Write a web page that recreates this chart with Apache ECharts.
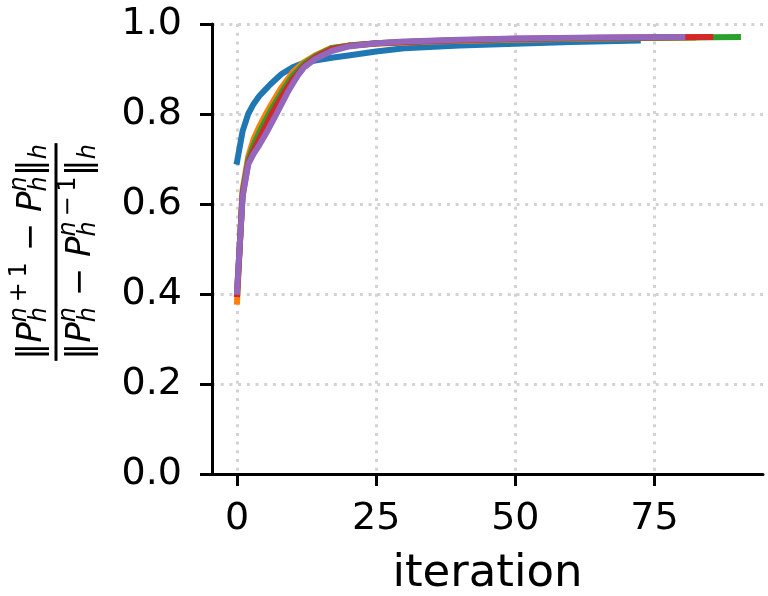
<!DOCTYPE html>
<html>
<head>
<meta charset="utf-8">
<script src="https://cdn.jsdelivr.net/npm/echarts@6/dist/echarts.min.js"></script>
<style>
html, body { margin: 0; padding: 0; background: #fff; }
#chart { width: 768px; height: 596px; }
</style>
</head>
<body>
<div id="chart"></div>
<script>
// 刻度
const xTicks = [0, 25, 50, 75];
const yTicks = [0, 0.2, 0.4, 0.6, 0.8, 1.0];

// 每条曲线: 迭代次数 / 比值
const blueX = [0, 1, 2, 3, 4, 5, 6, 8, 10, 12, 14, 17, 20, 25, 30, 40, 50, 60, 72];
const blueY = [0.694, 0.762, 0.800, 0.823, 0.840, 0.853, 0.866, 0.889, 0.904, 0.914, 0.919, 0.925, 0.930, 0.939, 0.946, 0.952, 0.956, 0.960, 0.963];
const orangeX = [0, 1, 2, 3, 4, 5, 6, 7, 8, 10, 12, 14, 17, 20, 25, 35, 50, 65, 82];
const orangeY = [0.383, 0.631, 0.705, 0.745, 0.772, 0.796, 0.818, 0.839, 0.859, 0.893, 0.915, 0.930, 0.947, 0.952, 0.956, 0.961, 0.965, 0.968, 0.970];
const greenX = [0, 1, 2, 3, 4, 5, 6, 7, 8, 10, 12, 14, 17, 20, 25, 35, 50, 70, 90];
const greenY = [0.400, 0.625, 0.697, 0.732, 0.759, 0.783, 0.806, 0.827, 0.848, 0.885, 0.911, 0.928, 0.946, 0.952, 0.957, 0.962, 0.966, 0.969, 0.971];
const redX = [0, 1, 2, 3, 4, 5, 6, 7, 8, 10, 12, 14, 17, 20, 25, 35, 50, 70, 85];
const redY = [0.400, 0.620, 0.690, 0.720, 0.745, 0.770, 0.794, 0.817, 0.838, 0.877, 0.906, 0.925, 0.944, 0.951, 0.957, 0.962, 0.967, 0.970, 0.971];
const purpleX = [0, 1, 2, 3, 4, 5, 6, 7, 8, 9, 10, 11, 12, 14, 17, 20, 25, 30, 40, 50, 65, 80];
const purpleY = [0.405, 0.616, 0.688, 0.712, 0.731, 0.752, 0.775, 0.798, 0.822, 0.846, 0.867, 0.887, 0.903, 0.922, 0.940, 0.950, 0.957, 0.961, 0.965, 0.968, 0.970, 0.971];

const runs = [
  [blueX, blueY, '#1f77b4'],
  [orangeX, orangeY, '#ff7f0e'],
  [greenX, greenY, '#2ca02c'],
  [redX, redY, '#d62728'],
  [purpleX, purpleY, '#9467bd']
];

const FONT = 'DejaVu Sans';
const ctx = document.createElement('canvas').getContext('2d');
let fnt = (size, it) => (it ? 'italic ' : '') + size + 'px "' + FONT + '"';
let tw = (t, size, it) => { ctx.font = fnt(size, it); return ctx.measureText(t).width; };

// y轴标题: 分式
const mainSize = 34, scriptSize = 24;
const numer = [['‖'], ['P', 1], {sup: [['n', 1], ['\u2009+\u20091']], sub: [['h', 1]]}, [' − '], ['P', 1], {sup: [['n', 1]], sub: [['h', 1]]}, ['‖'], {sub: [['h', 1]]}];
const denom = [['‖'], ['P', 1], {sup: [['n', 1]], sub: [['h', 1]]}, [' − '], ['P', 1], {sup: [['n', 1], ['\u2009−\u20091']], sub: [['h', 1]]}, ['‖'], {sub: [['h', 1]]}];

function layoutLine(tokens, cy) {
  const els = [];
  let cx = 0;
  let put = (segs, size, y) => {
    let x0 = cx;
    segs.forEach(s => {
      els.push({type: 'text', x: x0, y: y, style: {text: s[0], font: fnt(size, s[1]), fill: '#000', align: 'left', verticalAlign: 'middle'}});
      x0 += tw(s[0], size, s[1]);
    });
    return x0 - cx;
  };
  tokens.forEach(tok => {
    if (Array.isArray(tok)) {
      cx += put([tok], mainSize, cy);
    } else {
      let a = tok.sup ? put(tok.sup, scriptSize, cy - 12) : 0;
      let b = tok.sub ? put(tok.sub, scriptSize, cy + 8) : 0;
      cx += Math.max(a, b);
    }
  });
  els.forEach(e => { e.x -= cx / 2; });
  return {els: els, w: cx};
}
const numLine = layoutLine(numer, -24);
const denLine = layoutLine(denom, 25);
const barW = Math.max(numLine.w, denLine.w) + 2;

const chart = echarts.init(document.getElementById('chart'));
chart.setOption({
  animation: false,
  backgroundColor: '#fff',
  grid: {left: 212, right: 5, top: 24, bottom: 122, outerBoundsMode: 'none', containLabel: false},
  xAxis: {
    type: 'value', min: -4.5, max: 94.5,
    name: 'iteration', nameLocation: 'middle', nameGap: 78,
    nameTextStyle: {fontFamily: FONT, fontSize: 45, color: '#000'},
    axisLine: {onZero: false, lineStyle: {color: '#000', width: 3}},
    axisTick: {customValues: xTicks, length: 12, lineStyle: {color: '#000', width: 3}},
    axisLabel: {customValues: xTicks, margin: 26, fontFamily: FONT, fontSize: 38, color: '#000'},
    splitLine: {show: true, lineStyle: {color: '#d3d3d3', width: 3, type: [3, 5.7]}}
  },
  yAxis: {
    type: 'value', min: 0, max: 1, interval: 0.2,
    axisLine: {show: true, onZero: false, lineStyle: {color: '#000', width: 3}},
    axisTick: {show: true, length: 12, lineStyle: {color: '#000', width: 3}},
    axisLabel: {margin: 30, fontFamily: FONT, fontSize: 38, color: '#000', formatter: v => v.toFixed(1)},
    splitLine: {show: true, lineStyle: {color: '#d3d3d3', width: 3, type: [3, 5.7]}}
  },
  series: runs.map((r, k) => ({
    type: 'line', name: 'C' + k, showSymbol: false, symbol: 'none',
    data: r[0].map((x, i) => [x, r[1][i]]),
    lineStyle: {color: r[2], width: 6, cap: 'square', join: 'round'},
    z: 2 + k
  })),
  graphic: [{
    type: 'group', x: 56, y: 252, rotation: Math.PI / 2,
    children: numLine.els.concat(denLine.els).concat([{
      type: 'rect', shape: {x: -barW / 2, y: -1.5, width: barW, height: 3}, style: {fill: '#000'}
    }])
  }]
});
</script>
</body>
</html>
